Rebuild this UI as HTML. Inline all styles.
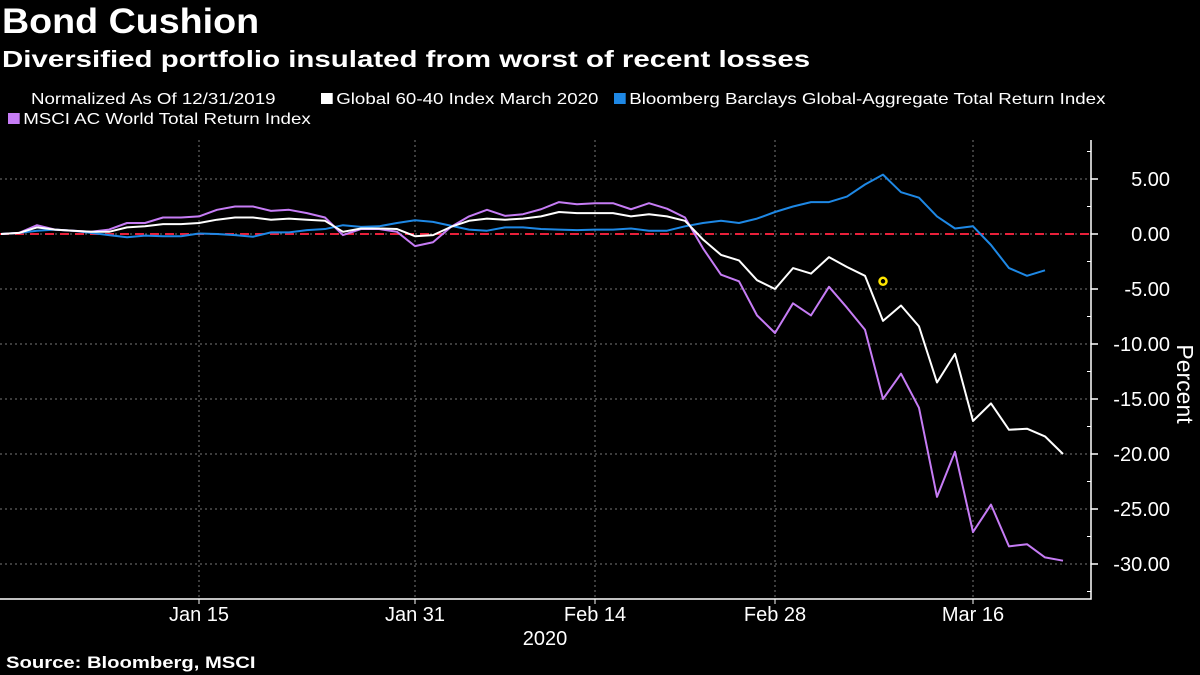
<!DOCTYPE html>
<html><head><meta charset="utf-8"><style>
html,body{margin:0;padding:0;background:#000;width:1200px;height:675px;overflow:hidden}
body{font-family:"Liberation Sans","DejaVu Sans",sans-serif;color:#fff;position:relative}
.t{position:absolute;white-space:nowrap;transform-origin:0 0}
</style></head><body>
<div class="t" style="left:2px;top:2px;font-size:35px;font-weight:bold;transform:scaleX(1.075)">Bond Cushion</div>
<div class="t" style="left:2px;top:46px;font-size:23px;font-weight:bold;transform:scaleX(1.28)">Diversified portfolio insulated from worst of recent losses</div>
<div class="t" style="left:31px;top:91px;font-size:16px;transform:scaleX(1.17)">Normalized As Of 12/31/2019</div>
<div class="t" style="left:321px;top:91px;font-size:16px;transform:scaleX(1.17)"><span style="display:inline-block;width:10px;height:11px;background:#fff;margin-right:3px"></span>Global 60-40 Index March 2020</div>
<div class="t" style="left:614px;top:91px;font-size:16px;transform:scaleX(1.17)"><span style="display:inline-block;width:10px;height:11px;background:#1e88e5;margin-right:3px"></span>Bloomberg Barclays Global-Aggregate Total Return Index</div>
<div class="t" style="left:8px;top:111px;font-size:16px;transform:scaleX(1.17)"><span style="display:inline-block;width:10px;height:11px;background:#c67cf5;margin-right:3px"></span>MSCI AC World Total Return Index</div>
<div class="t" style="left:6px;top:653px;font-size:17px;font-weight:bold;transform:scaleX(1.19)">Source: Bloomberg, MSCI</div>
<svg id="chart" width="1200" height="675" style="position:absolute;left:0;top:0"></svg>
<script>
const yTicks=[5,0,-5,-10,-15,-20,-25,-30];
const xTickIdx=[11,23,33,43,54];
const xTickLabels=["Jan 15","Jan 31","Feb 14","Feb 28","Mar 16"];
const white=[0,0.1,0.6,0.4,0.3,0.2,0.2,0.6,0.7,0.9,0.9,1.0,1.3,1.5,1.5,1.3,1.4,1.3,1.2,0.2,0.5,0.5,0.45,-0.2,-0.1,0.65,1.2,1.4,1.3,1.4,1.6,2.0,1.9,1.9,1.9,1.6,1.8,1.6,1.2,-0.5,-1.9,-2.4,-4.2,-5.0,-3.1,-3.6,-2.1,-3.0,-3.8,-7.9,-6.5,-8.4,-13.5,-10.9,-17.0,-15.4,-17.8,-17.7,-18.4,-20.0];
const purple=[0,0.1,0.8,0.4,0.3,0.2,0.4,1.0,1.0,1.5,1.5,1.6,2.2,2.5,2.5,2.1,2.2,1.9,1.5,-0.1,0.45,0.45,0.2,-1.1,-0.75,0.65,1.6,2.2,1.65,1.8,2.25,2.9,2.7,2.8,2.8,2.25,2.8,2.3,1.5,-1.3,-3.7,-4.3,-7.4,-9.0,-6.3,-7.4,-4.8,-6.7,-8.7,-15.0,-12.7,-15.8,-23.9,-19.8,-27.1,-24.6,-28.4,-28.2,-29.4,-29.7];
const blue=[0,0.1,0.3,0.4,0.3,0.1,-0.1,-0.3,-0.15,-0.2,-0.2,0.05,0,-0.1,-0.25,0.15,0.15,0.35,0.45,0.8,0.65,0.7,1.0,1.25,1.1,0.75,0.4,0.3,0.6,0.6,0.45,0.4,0.35,0.4,0.4,0.5,0.3,0.3,0.7,1.0,1.2,1.0,1.4,2.0,2.5,2.9,2.9,3.4,4.5,5.4,3.8,3.3,1.6,0.5,0.7,-1.0,-3.1,-3.8,-3.3];
const marker={i:49,v:-4.3};
const NS="http://www.w3.org/2000/svg",svg=document.getElementById("chart");
const X=i=>1+18*i, Y=v=>234-11*v;
function el(t,a,p){const e=document.createElementNS(NS,t);for(const k in a)e.setAttribute(k,a[k]);(p||svg).appendChild(e);return e;}
yTicks.forEach(v=>{
 const g=el("line",{x1:0,x2:1091,y1:Y(v),y2:Y(v),stroke:"#777","stroke-dasharray":"2,3","stroke-width":1});
 
 
 const tk=el("line",{x1:1091,x2:1098,y1:Y(v),y2:Y(v),stroke:"#fff","stroke-width":1.5});
 
 
 const t=el("text",{x:1170,y:Y(v)+7,"text-anchor":"end",fill:"#fff","font-size":20,"font-family":"Liberation Sans, sans-serif"});
 t.textContent=v.toFixed(2);
 
 
});
for(let v=7.5;v>=-32.5;v-=5){const m=el("line",{x1:1087,x2:1091,y1:Y(v),y2:Y(v),stroke:"#fff"});
 
 }
xTickIdx.forEach((i,k)=>{
 const g=el("line",{x1:X(i),x2:X(i),y1:140,y2:599,stroke:"#777","stroke-dasharray":"2,3"});
 
 
 const tk=el("line",{x1:X(i),x2:X(i),y1:599,y2:604,stroke:"#fff"});
 
 
 const t=el("text",{x:X(i),y:621,"text-anchor":"middle",fill:"#fff","font-size":20,"font-family":"Liberation Sans, sans-serif"});
 t.textContent=xTickLabels[k];
 
 
});
const yr=el("text",{x:545,y:645,"text-anchor":"middle",fill:"#fff","font-size":20,"font-family":"Liberation Sans, sans-serif"});
yr.textContent="2020";


const ax=el("polyline",{points:"0,599 1091,599 1091,140",fill:"none",stroke:"#fff","stroke-width":1.5});


const yl=el("text",{transform:"translate(1177,384) rotate(90)","text-anchor":"middle",fill:"#fff","font-size":23,"font-family":"Liberation Sans, sans-serif"});
yl.textContent="Percent";


const zl=el("line",{x1:0,x2:1091,y1:Y(0),y2:Y(0),stroke:"#e8203a","stroke-width":2,"stroke-dasharray":"9,6"});


function line(d,c,n){const p=el("polyline",{points:d.map((v,i)=>X(i)+","+Y(v)).join(" "),fill:"none",stroke:c,"stroke-width":2,"stroke-linejoin":"round"});
 
 }
line(blue,"#1e88e5","series-bloomberg-barclays");
line(purple,"#c67cf5","series-msci-acwi");
line(white,"#ffffff","series-global-60-40");
const mk=el("circle",{cx:X(marker.i),cy:Y(marker.v),r:3.5,fill:"#000",stroke:"#ffe600","stroke-width":2.5});


</script>
</body></html>
